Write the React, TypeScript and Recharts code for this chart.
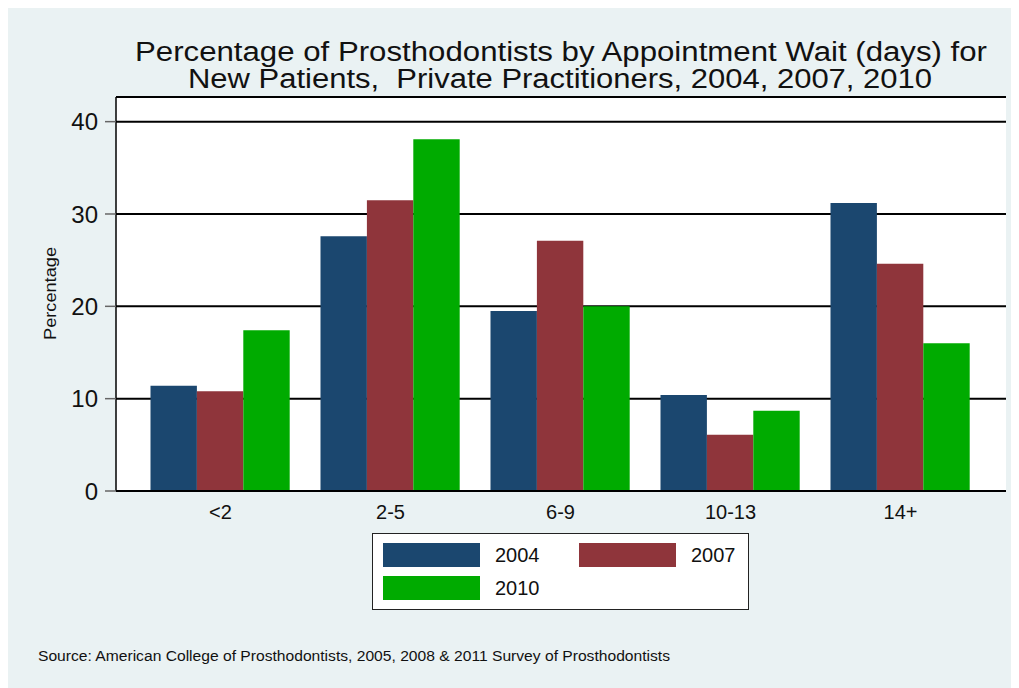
import React from "react";
import { BarChart, Bar, XAxis, YAxis, CartesianGrid, Legend } from "recharts";

const categories = ["<2", "2-5", "6-9", "10-13", "14+"];
const y2004 = [11.4, 27.6, 19.5, 10.4, 31.2];
const y2007 = [10.8, 31.5, 27.1, 6.1, 24.6];
const y2010 = [17.4, 38.1, 20.0, 8.7, 16.0];
const yTicks = [0, 10, 20, 30, 40];

const FONT = "'Liberation Sans', Arial, Helvetica, sans-serif";
const BG = "#eaf2f3";

const data = categories.map((c, i) => ({
  cat: c,
  y2004: y2004[i],
  y2007: y2007[i],
  y2010: y2010[i],
}));

// legend box laid out like Stata: 2 columns, swatch + label
function LegendBox(props: any) {
  const items = props.payload || [];
  return (
    <div
      style={{
        position: "relative",
        width: 377,
        height: 77,
        boxSizing: "border-box",
        border: "1px solid #222",
        background: "#fff",
        fontFamily: FONT,
      }}
    >
      {items.map((it: any, i: number) => {
        const col = i % 2;
        const row = Math.floor(i / 2);
        return (
          <div
            key={it.value}
            style={{ position: "absolute", left: 10 + col * 196, top: 9 + row * 33, display: "flex", alignItems: "center" }}
          >
            <div style={{ width: 97, height: 24, background: it.color }} />
            <span style={{ marginLeft: 15, fontSize: 20, color: "#111" }}>{it.value}</span>
          </div>
        );
      })}
    </div>
  );
}

export default function App() {
  return (
    <div style={{ position: "relative", width: 1011, height: 680, background: BG }}>
      <style>{"body{overflow:hidden}"}</style>
      <BarChart
        width={1011}
        height={680}
        data={data}
        margin={{ top: 89, right: 13, left: 48, bottom: 167 }}
        barGap={0}
        barSize={46.4}
      >
        <CartesianGrid vertical={false} fill="#fff" stroke="#000" strokeWidth={2} />
        <XAxis
          dataKey="cat"
          padding={{ left: 19.5, right: 20.5 }}
          height={30}
          tickSize={0}
          tickMargin={14}
          axisLine={{ stroke: "#000", strokeWidth: 2 }}
          tick={{ fontSize: 20, fill: "#111", fontFamily: FONT }}
        />
        <YAxis
          width={60}
          domain={[0, 42.67]}
          ticks={yTicks}
          tickSize={11}
          tickMargin={7}
          axisLine={{ stroke: "#000", strokeWidth: 1.5 }}
          tickLine={{ stroke: "#666", strokeWidth: 1.5 }}
          tick={{ fontSize: 24, fill: "#111", fontFamily: FONT }}
        />
        <Bar dataKey="y2004" name="2004" fill="#1b476f" isAnimationActive={false} />
        <Bar dataKey="y2007" name="2007" fill="#8f353b" isAnimationActive={false} />
        <Bar dataKey="y2010" name="2010" fill="#00ab00" isAnimationActive={false} />
        <Legend
          layout="horizontal"
          verticalAlign="middle"
          align="center"
          content={<LegendBox />}
          wrapperStyle={{ left: 364, top: 525, width: 377, height: 77 }}
        />
      </BarChart>
      <svg
        width={1011}
        height={680}
        style={{ position: "absolute", left: 0, top: 0, pointerEvents: "none" }}
        fontFamily={FONT}
      >
        <text x={553} y={52.5} textAnchor="middle" fontSize={27} fill="#111" textLength={852} lengthAdjust="spacingAndGlyphs">
          Percentage of Prosthodontists by Appointment Wait (days) for
        </text>
        <text x={552} y={80} textAnchor="middle" fontSize={27} fill="#111" textLength={744} lengthAdjust="spacingAndGlyphs" xmlSpace="preserve">
          New Patients,  Private Practitioners, 2004, 2007, 2010
        </text>
        <text
          x={48}
          y={285.5}
          transform="rotate(-90 48 285.5)"
          textAnchor="middle"
          fontSize={16}
          fill="#111"
          textLength={93}
          lengthAdjust="spacingAndGlyphs"
        >
          Percentage
        </text>
        <text x={30} y={653} fontSize={14} fill="#111" textLength={632} lengthAdjust="spacingAndGlyphs">
          Source: American College of Prosthodontists, 2005, 2008 &amp; 2011 Survey of Prosthodontists
        </text>
      </svg>
    </div>
  );
}
